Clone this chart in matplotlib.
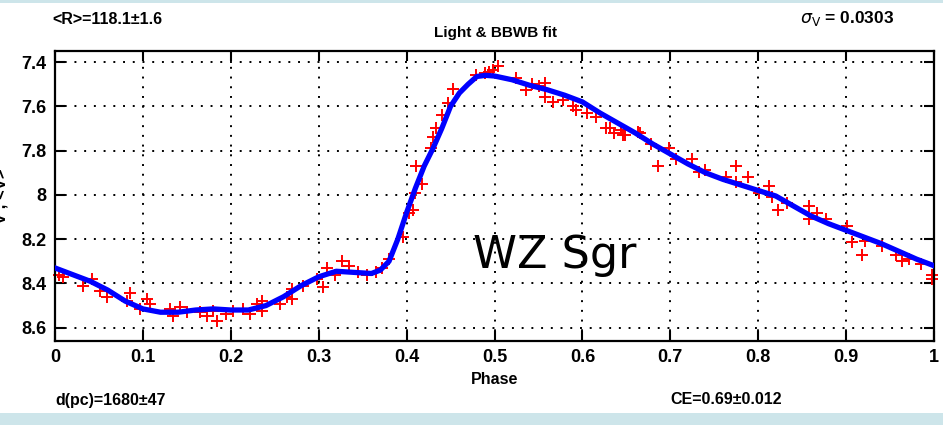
import matplotlib
matplotlib.use('Agg')
import matplotlib.pyplot as plt
from matplotlib.patches import Rectangle

plt.rcParams['font.family'] = ['Liberation Sans', 'DejaVu Sans']

# fitted light curve (phase, V mag)
fit_phase = [0.00, 0.02, 0.04, 0.06, 0.08, 0.10, 0.12, 0.14, 0.16, 0.18,
             0.20, 0.22, 0.24, 0.26, 0.28, 0.30, 0.32, 0.34, 0.36, 0.37,
             0.38, 0.39, 0.40, 0.41, 0.42, 0.43, 0.44, 0.45, 0.46, 0.47,
             0.48, 0.49, 0.50, 0.52, 0.54, 0.56, 0.58, 0.60, 0.62, 0.64,
             0.66, 0.68, 0.70, 0.72, 0.74, 0.76, 0.78, 0.80, 0.82, 0.84,
             0.86, 0.88, 0.90, 0.92, 0.94, 0.96, 0.98, 1.00]
fit_mag = [8.33, 8.36, 8.39, 8.43, 8.48, 8.515, 8.53, 8.53, 8.52, 8.515,
           8.52, 8.52, 8.50, 8.46, 8.41, 8.37, 8.345, 8.35, 8.355, 8.34,
           8.30, 8.20, 8.08, 7.97, 7.87, 7.79, 7.70, 7.60, 7.54, 7.50,
           7.465, 7.46, 7.463, 7.48, 7.505, 7.525, 7.55, 7.58, 7.63, 7.675,
           7.72, 7.77, 7.815, 7.86, 7.90, 7.93, 7.955, 7.98, 8.005, 8.05,
           8.095, 8.13, 8.16, 8.19, 8.22, 8.255, 8.29, 8.32]

# observed photometry
obs_phase = [0.004, 0.009, 0.032, 0.042, 0.051, 0.059, 0.085, 0.105, 0.082, 0.108,
             0.097, 0.131, 0.142, 0.134, 0.150, 0.165, 0.173, 0.184, 0.180, 0.195,
             0.202, 0.214, 0.222, 0.230, 0.236, 0.236, 0.256, 0.264, 0.270, 0.270,
             0.282, 0.298, 0.305, 0.310, 0.318, 0.327, 0.335, 0.345, 0.355, 0.365,
             0.372, 0.380, 0.396, 0.403, 0.407, 0.409, 0.418, 0.411, 0.428, 0.430,
             0.434, 0.440, 0.447, 0.453, 0.479, 0.489, 0.494, 0.504, 0.498, 0.525,
             0.536, 0.543, 0.551, 0.557, 0.557, 0.566, 0.578, 0.589, 0.593, 0.605,
             0.616, 0.631, 0.636, 0.644, 0.648, 0.665, 0.627, 0.646, 0.663, 0.678,
             0.686, 0.699, 0.706, 0.725, 0.733, 0.740, 0.763, 0.775, 0.775, 0.788,
             0.801, 0.812, 0.816, 0.822, 0.833, 0.858, 0.858, 0.867, 0.877, 0.901,
             0.907, 0.918, 0.922, 0.941, 0.957, 0.964, 0.972, 0.985, 0.998, 0.998]
obs_mag = [8.36, 8.373, 8.413, 8.382, 8.436, 8.459, 8.441, 8.472, 8.481, 8.495,
           8.517, 8.517, 8.508, 8.549, 8.531, 8.531, 8.549, 8.571, 8.526, 8.54,
           8.526, 8.517, 8.54, 8.495, 8.481, 8.526, 8.495, 8.463, 8.427, 8.472,
           8.413, 8.382, 8.418, 8.33, 8.36, 8.30, 8.32, 8.35, 8.36, 8.35,
           8.33, 8.29, 8.19, 8.08, 8.07, 7.99, 7.95, 7.87, 7.79, 7.74,
           7.70, 7.64, 7.585, 7.52, 7.46, 7.45, 7.445, 7.42, 7.437, 7.47,
           7.526, 7.50, 7.51, 7.495, 7.56, 7.58, 7.57, 7.60, 7.616, 7.63,
           7.65, 7.70, 7.72, 7.706, 7.73, 7.72, 7.70, 7.73, 7.715, 7.77,
           7.87, 7.79, 7.84, 7.84, 7.895, 7.886, 7.92, 7.87, 7.94, 7.92,
           7.99, 7.96, 8.01, 8.07, 8.035, 8.05, 8.11, 8.08, 8.11, 8.14,
           8.215, 8.27, 8.21, 8.233, 8.27, 8.30, 8.29, 8.31, 8.36, 8.38]

xticks = [0, 0.1, 0.2, 0.3, 0.4, 0.5, 0.6, 0.7, 0.8, 0.9, 1]
xticklabels = ['0', '0.1', '0.2', '0.3', '0.4', '0.5', '0.6', '0.7', '0.8', '0.9', '1']
yticks = [7.4, 7.6, 7.8, 8.0, 8.2, 8.4, 8.6]
yticklabels = ['7.4', '7.6', '7.8', '8', '8.2', '8.4', '8.6']

fig = plt.figure(figsize=(9.43, 4.25), dpi=100)

# light blue frame bands
band = '#cde5ea'
fig.patches.append(Rectangle((0, 0), 1, 12 / 425, transform=fig.transFigure,
                             facecolor=band, edgecolor='none', zorder=0))
fig.patches.append(Rectangle((0, 1 - 3 / 425), 1, 3 / 425, transform=fig.transFigure,
                             facecolor=band, edgecolor='none', zorder=0))

ax = fig.add_axes([55 / 943, 1 - 341 / 425, 879 / 943, 290 / 425])

ax.plot(obs_phase, obs_mag, '+', color='red', markersize=9, markeredgewidth=1.4,
        clip_on=False, zorder=2)
ax.plot(fit_phase, fit_mag, '-', color='blue', linewidth=3.8, zorder=3)

ax.set_xlim(0, 1)
ax.set_ylim(8.66, 7.35)
ax.set_xticks(xticks)
ax.set_xticklabels(xticklabels)
ax.set_yticks(yticks)
ax.set_yticklabels(yticklabels)
ax.tick_params(direction='in', length=7, width=1.5, top=True, right=True,
               labelsize=13, pad=6)
for lab in ax.get_xticklabels() + ax.get_yticklabels():
    lab.set_fontweight('bold')
for sp in ax.spines.values():
    sp.set_linewidth(1.6)
ax.grid(True, linestyle=(0, (1, 4)), color='black', linewidth=1.4)

ax.set_xlabel('Phase', fontsize=11.5, fontweight='bold', labelpad=4)
ax.text(0.568, 8.33, 'WZ Sgr', fontsize=32, ha='center', va='baseline',
        family='DejaVu Sans')

fig.text(495 / 943, 1 - 33 / 425, 'Light & BBWB fit', fontsize=11,
         fontweight='bold', ha='center', va='center')
fig.text(52 / 943, 1 - 20 / 425, '<R>=118.1\u00b11.6', fontsize=11.5,
         fontweight='bold', ha='left', va='center')
fig.text(800 / 943, 1 - 19 / 425, r'$\sigma_{\rm V}$ = 0.0303', fontsize=12.5,
         fontweight='bold', ha='left', va='center')
fig.text(55 / 943, 1 - 400 / 425, 'd(pc)=1680\u00b147', fontsize=11.5,
         fontweight='bold', ha='left', va='center')
fig.text(670 / 943, 1 - 400 / 425, 'CE=0.69\u00b10.012', fontsize=11.5,
         fontweight='bold', ha='left', va='center')
# y-axis label sits mostly off the left edge
fig.text(9 / 943, 1 - 196 / 425, 'V , <V>', fontsize=12, fontweight='bold',
         rotation=90, ha='right', va='center')

fig.savefig('out.png', dpi=100)
